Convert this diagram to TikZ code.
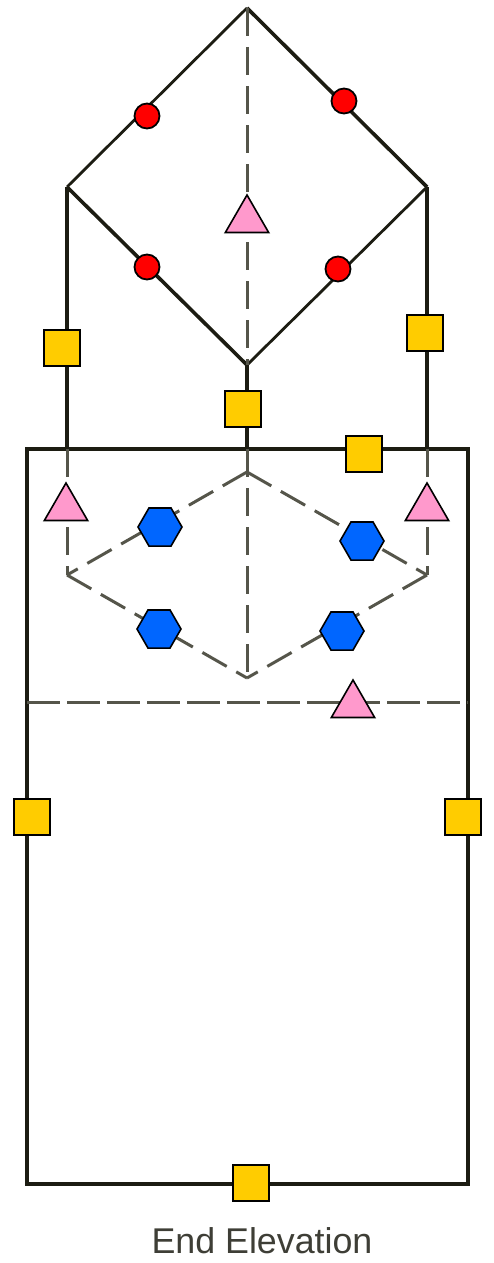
\documentclass[tikz,border=0pt]{standalone}
\usepackage{fontspec}
\setmainfont{Liberation Sans}
\usepackage{xcolor}
\usetikzlibrary{shapes.geometric}
\definecolor{edgeink}{HTML}{1C1C12}
\definecolor{hiddenink}{HTML}{55554A}
\definecolor{squarefill}{HTML}{FFCC00}
\definecolor{trianglefill}{HTML}{FF99CC}
\definecolor{hexfill}{HTML}{0066FF}
\tikzset{
	solidedge/.style={draw=edgeink,line width=3.6pt},
	thinedge/.style={draw=edgeink,line width=2.8pt},
	hiddenedge/.style={draw=hiddenink,line width=3pt,dash pattern=on 28pt off 11pt},
	squaremark/.style={rectangle,draw=black,fill=squarefill,line width=2.2pt,minimum size=36pt,inner sep=0pt},
	circlemark/.style={circle,draw=black,fill=red,line width=1.8pt,minimum size=25pt,inner sep=0pt},
	trianglemark/.style={regular polygon,regular polygon sides=3,draw=black,fill=trianglefill,line width=1.6pt,minimum size=50pt,inner sep=0pt},
	hexmark/.style={regular polygon,regular polygon sides=6,draw=black,fill=hexfill,line width=1.6pt,minimum size=44pt,inner sep=0pt}
}
\begin{document}
\begin{tikzpicture}[x=1pt,y=-1pt]
	\useasboundingbox (0,0) rectangle (493,1263);
	% roof outline
	\coordinate (ridge) at (247,8);
	\coordinate (roofleft) at (67,187);
	\coordinate (roofright) at (427,187);
	\coordinate (roofbottom) at (247,365);
	% wall tops
	\coordinate (wallleft) at (67,449);
	\coordinate (wallright) at (427,449);
	\coordinate (wallmid) at (247,449);
	% body
	\coordinate (bodytl) at (27,449);
	\coordinate (bodytr) at (468,449);
	\coordinate (bodybr) at (468,1184);
	\coordinate (bodybl) at (27,1184);
	\coordinate (floorleft) at (27,702);
	\coordinate (floorright) at (468,702);
	% hidden diamond
	\coordinate (lowtop) at (247,472);
	\coordinate (lowleft) at (67,575);
	\coordinate (lowright) at (427,575);
	\coordinate (lowbottom) at (247,678);
	% solid lines
	\draw[thinedge] (roofleft) -- (ridge);
	\draw[solidedge] (ridge) -- (roofright);
	\draw[solidedge] (roofleft) -- (roofbottom);
	\draw[thinedge] (roofbottom) -- (roofright);
	\draw[solidedge] (roofleft) -- (wallleft);
	\draw[solidedge] (roofright) -- (wallright);
	\draw[solidedge] (roofbottom) -- (wallmid);
	\draw[solidedge] (bodytl) -- (bodytr) -- (bodybr) -- (bodybl) -- cycle;
	% hidden lines
	\draw[hiddenedge] (ridge) -- (roofbottom);
	\draw[hiddenedge] (wallleft) -- (lowleft);
	\draw[hiddenedge] (wallright) -- (lowright);
	\draw[hiddenedge] (wallmid) -- (lowbottom);
	\draw[hiddenedge] (lowtop) -- (lowleft);
	\draw[hiddenedge] (lowtop) -- (lowright);
	\draw[hiddenedge] (lowleft) -- (lowbottom);
	\draw[hiddenedge] (lowright) -- (lowbottom);
	\draw[hiddenedge,dash pattern=on 33pt off 7pt] (floorleft) -- (floorright);
	% circles
	\node[circlemark] (circa) at (147,116) {};
	\node[circlemark] (circb) at (344,101) {};
	\node[circlemark] (circc) at (147,267) {};
	\node[circlemark] (circd) at (338,269) {};
	% triangles
	\node[trianglemark] (tria) at (247,220) {};
	\node[trianglemark] (trib) at (66,508) {};
	\node[trianglemark] (tric) at (427,508) {};
	\node[trianglemark] (trid) at (353,705) {};
	% hexagons
	\node[hexmark] (hexa) at (160,527) {};
	\node[hexmark] (hexb) at (362,541) {};
	\node[hexmark] (hexc) at (159,629) {};
	\node[hexmark] (hexd) at (342,631) {};
	% squares
	\node[squaremark] (sqa) at (62,348) {};
	\node[squaremark] (sqb) at (425,333) {};
	\node[squaremark] (sqc) at (243,409) {};
	\node[squaremark] (sqd) at (364,454) {};
	\node[squaremark] (sqe) at (32,817) {};
	\node[squaremark] (sqf) at (463,817) {};
	\node[squaremark] (sqg) at (251,1183) {};
	% title
	\node[text=edgeink!85,font=\fontsize{35.8}{38}\selectfont,inner sep=0pt] (title) at (262,1241) {End Elevation};
\end{tikzpicture}
\end{document}
